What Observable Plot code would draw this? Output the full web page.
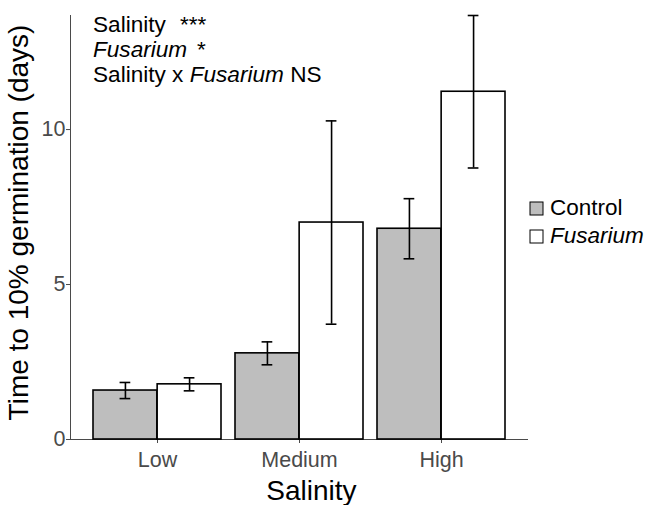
<!DOCTYPE html>
<html>
<head>
<meta charset="utf-8">
<script src="https://cdn.jsdelivr.net/npm/d3@7"></script>
<script src="https://cdn.jsdelivr.net/npm/@observablehq/plot@0.6"></script>
<style>
  html, body { margin: 0; padding: 0; background: #fff; }
  #chart svg { display: block; }
</style>
</head>
<body>
<div id="chart"></div>
<script>
// ---- data ----
const salinity = ["Low", "Medium", "High"];
const treatments = ["Control", "Fusarium"];
const controlMean = [1.58, 2.78, 6.80];
const controlErr = [0.26, 0.37, 0.97];
const fusariumMean = [1.78, 7.00, 11.22];
const fusariumErr = [0.21, 3.28, 2.46];
const yTicks = [0, 5, 10];

const control = salinity.map((s, i) => ({salinity: s, mean: controlMean[i], lo: controlMean[i] - controlErr[i], hi: controlMean[i] + controlErr[i]}));
const fusarium = salinity.map((s, i) => ({salinity: s, mean: fusariumMean[i], lo: fusariumMean[i] - fusariumErr[i], hi: fusariumMean[i] + fusariumErr[i]}));

// ---- layout ----
const W = 651, H = 505;
const mL = 70, mR = 124, mT = 15, mB = 66;
const pIn = 0.1, pOut = 0.153;
const step = (W - mL - mR) / (salinity.length - pIn + 2 * pOut);
const bw = step * (1 - pIn);
const half = bw / 2;
const cap = 5.5;
const font = "'Liberation Sans', Arial, Helvetica, sans-serif";

function errMarks(data, dx) {
  return [
    Plot.ruleX(data, {x: "salinity", y1: "lo", y2: "hi", dx, stroke: "black", strokeWidth: 1.6}),
    Plot.tickY(data, {x: "salinity", y: "lo", dx, insetLeft: half - cap, insetRight: half - cap, stroke: "black", strokeWidth: 1.6}),
    Plot.tickY(data, {x: "salinity", y: "hi", dx, insetLeft: half - cap, insetRight: half - cap, stroke: "black", strokeWidth: 1.6})
  ];
}

const plot = Plot.plot({
  width: W,
  height: H,
  marginLeft: mL,
  marginRight: mR,
  marginTop: mT,
  marginBottom: mB,
  style: {fontFamily: font, fontSize: "21.5px", color: "#4a4a4a", background: "white"},
  x: {domain: salinity, paddingInner: pIn, paddingOuter: pOut, label: null, tickSize: 4, tickPadding: 8, line: true},
  y: {domain: [0, 13.68], ticks: yTicks, label: null, tickSize: 4, tickPadding: 1, line: true},
  marks: [
    Plot.barY(control, {x: "salinity", y: "mean", insetRight: half, fill: "#bebebe", stroke: "black", strokeWidth: 1.6}),
    Plot.barY(fusarium, {x: "salinity", y: "mean", insetLeft: half, fill: "white", stroke: "black", strokeWidth: 1.6}),
    ...errMarks(control, -bw / 4),
    ...errMarks(fusarium, bw / 4)
  ]
});

document.getElementById("chart").appendChild(plot);

// ---- titles, annotation and legend ----
const svg = d3.select(plot);
const g = svg.append("g").attr("font-family", font).attr("fill", "black").attr("text-anchor", "start");

g.append("text")
  .attr("transform", "translate(28,222.5) rotate(-90)")
  .attr("text-anchor", "middle")
  .attr("font-size", 28)
  .text("Time to 10% germination (days)");

g.append("text")
  .attr("x", 311.5).attr("y", 500)
  .attr("text-anchor", "middle")
  .attr("font-size", 28)
  .text("Salinity");

const ann = g.append("g").attr("font-size", 22.6);
const l1 = ann.append("text").attr("x", 93).attr("y", 31.5);
l1.append("tspan").text("Salinity");
l1.append("tspan").attr("x", 180).text("***");
const l2 = ann.append("text").attr("x", 93).attr("y", 57);
l2.append("tspan").attr("font-style", "italic").text("Fusarium");
l2.append("tspan").attr("x", 197).text("*");
const l3 = ann.append("text").attr("x", 93).attr("y", 81.5);
l3.append("tspan").text("Salinity x ");
l3.append("tspan").attr("font-style", "italic").text("Fusarium");
l3.append("tspan").text(" NS");

const legendFill = ["#bebebe", "white"];
const legendY = [202, 230];
treatments.forEach((t, i) => {
  g.append("rect").attr("x", 530).attr("y", legendY[i]).attr("width", 13).attr("height", 13)
    .attr("fill", legendFill[i]).attr("stroke", "black").attr("stroke-width", 1);
  g.append("text").attr("x", 550).attr("y", legendY[i] + 12.5)
    .attr("font-size", 22.5)
    .attr("font-style", i === 1 ? "italic" : null)
    .text(t);
});
</script>
</body>
</html>
